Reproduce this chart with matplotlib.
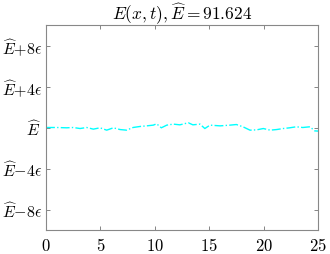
import matplotlib
matplotlib.use("Agg")
import matplotlib.pyplot as plt
import numpy as np

plt.rcParams['mathtext.fontset'] = 'cm'
plt.rcParams['font.family'] = 'serif'
plt.rcParams['font.serif'] = ['DejaVu Serif']

E_hat = 91.624
t = [0.0, 0.98, 1.9, 2.5, 3.13, 3.74, 4.35, 4.96, 5.58, 6.19, 6.8, 7.4, 8.0, 8.64,
     9.25, 9.86, 10.17, 10.6, 11.1, 11.7, 12.3, 13.08, 13.5, 14.15, 14.6, 15.07,
     16.0, 16.9, 17.5, 18.1, 18.75, 19.36, 19.97, 20.6, 21.2, 21.8, 22.4, 23.0,
     23.6, 24.26, 24.7, 25.0]
dev_eps = [0.0, 0.0, -0.03, 0.0, -0.1, 0.0, -0.16, -0.03, -0.26, -0.03, -0.2, -0.26,
           0.0, 0.1, 0.16, 0.23, 0.36, -0.03, 0.23, 0.33, 0.26, 0.46, 0.26, 0.33,
           -0.1, 0.23, 0.16, 0.23, 0.29, 0.07, -0.26, -0.23, -0.1, -0.26, -0.2,
           -0.1, -0.03, 0.07, 0.0, 0.07, -0.33, -0.35]
yticks = [-8, -4, 0, 4, 8]
yticklabels = [r'$\widehat{E}{-}8\epsilon$', r'$\widehat{E}{-}4\epsilon$',
               r'$\widehat{E}$', r'$\widehat{E}{+}4\epsilon$', r'$\widehat{E}{+}8\epsilon$']
xticks = [0, 5, 10, 15, 20, 25]

fig = plt.figure(figsize=(3.3, 2.55), dpi=100)
ax = fig.add_axes([46/330, 1-231/255, (318-46)/330, (231-26)/255])
ax.plot(t, dev_eps, color='cyan', linestyle='-.', linewidth=1.0)
ax.set_xlim(0, 25)
ax.set_ylim(-10, 10)
ax.set_xticks(xticks)
ax.set_xticklabels([f'${v}$' for v in xticks], fontsize=12)
ax.set_yticks(yticks)
ax.set_yticklabels(yticklabels, fontsize=11.5)
ax.tick_params(direction='in', length=3, width=0.5, color='#555555', top=True, right=True)
ax.tick_params(axis='y', pad=3)
ax.tick_params(axis='x', pad=5)
for s in ax.spines.values():
    s.set_color('#888888')
    s.set_linewidth(0.8)
ax.set_title(r'$E(x,t),\widehat{E}=91.624$', fontsize=12.5, pad=4)
fig.savefig('out.png', dpi=100)
